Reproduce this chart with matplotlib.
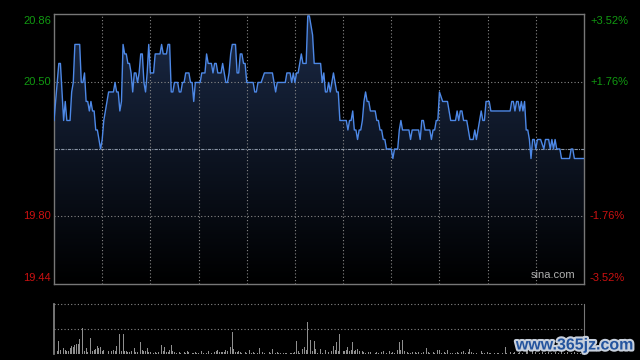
import matplotlib
matplotlib.use('Agg')
import matplotlib.pyplot as plt
import matplotlib.patheffects as pe
import matplotlib.transforms as mtrans
import numpy as np
from matplotlib.colors import LinearSegmentedColormap

# previous close and price axis range
prev_close = 20.15
y_low, y_high = 19.44, 20.86

# intraday price (minute index from open, price)
minutes = [0, 3, 4, 6, 7, 8, 10, 11, 12, 13, 16, 17, 18, 19, 20, 21, 22, 23, 24, 25,
           26, 27, 28, 29, 30, 31, 32, 33, 34, 37, 38, 39, 40, 41, 42, 43, 44, 45, 46, 47,
           48, 49, 50, 51, 52, 53, 54, 55, 56, 57, 58, 59, 60, 62, 63, 66, 67, 68, 70, 71,
           72, 73, 74, 75, 77, 78, 79, 80, 81, 82, 84, 85, 86, 87, 88, 91, 92, 94, 95, 96,
           98, 99, 100, 101, 102, 104, 105, 106, 107, 108, 109, 110, 111, 113, 114, 115, 116, 117, 118, 119,
           120, 124, 125, 126, 127, 129, 131, 136, 137, 138, 139, 144, 145, 147, 148, 149, 150, 151, 152, 153,
           154, 155, 157, 158, 159, 160, 161, 162, 166, 167, 168, 169, 170, 171, 172, 174, 176, 177, 178, 182,
           183, 184, 185, 186, 187, 188, 189, 190, 191, 192, 193, 194, 195, 196, 197, 200, 201, 202, 203, 204,
           205, 206, 207, 210, 211, 212, 214, 215, 216, 217, 221, 222, 223, 227, 228, 229, 230, 231, 234, 235,
           236, 237, 238, 239, 240, 242, 245, 246, 247, 250, 251, 252, 253, 254, 255, 257, 258, 259, 261, 262,
           263, 264, 265, 266, 267, 268, 269, 271, 272, 284, 285, 286, 287, 288, 289, 290, 291, 292, 293, 294,
           295, 296, 297, 298, 299, 300, 301, 303, 305, 306, 308, 309, 310, 311, 312, 313, 315, 316, 321, 322,
           323, 324, 330]
prices = [20.30, 20.60, 20.60, 20.30, 20.40, 20.30, 20.30, 20.45, 20.50, 20.70, 20.70, 20.50, 20.50, 20.55, 20.40, 20.40, 20.35, 20.40, 20.35, 20.35,
          20.25, 20.25, 20.20, 20.15, 20.20, 20.30, 20.35, 20.40, 20.45, 20.45, 20.50, 20.45, 20.45, 20.35, 20.40, 20.70, 20.65, 20.65, 20.60, 20.60,
          20.55, 20.45, 20.55, 20.55, 20.50, 20.55, 20.65, 20.65, 20.50, 20.45, 20.55, 20.70, 20.55, 20.55, 20.65, 20.65, 20.70, 20.65, 20.65, 20.70,
          20.70, 20.45, 20.45, 20.50, 20.50, 20.45, 20.45, 20.50, 20.50, 20.55, 20.55, 20.50, 20.50, 20.40, 20.50, 20.50, 20.55, 20.55, 20.65, 20.60,
          20.60, 20.55, 20.60, 20.60, 20.55, 20.55, 20.60, 20.55, 20.50, 20.50, 20.55, 20.65, 20.70, 20.70, 20.55, 20.55, 20.65, 20.65, 20.60, 20.60,
          20.50, 20.50, 20.45, 20.45, 20.50, 20.50, 20.55, 20.55, 20.50, 20.45, 20.50, 20.50, 20.55, 20.55, 20.50, 20.55, 20.50, 20.55, 20.55, 20.60,
          20.65, 20.60, 20.60, 20.85, 20.85, 20.80, 20.75, 20.60, 20.60, 20.50, 20.55, 20.45, 20.45, 20.50, 20.45, 20.55, 20.45, 20.45, 20.30, 20.30,
          20.25, 20.30, 20.30, 20.35, 20.25, 20.25, 20.20, 20.25, 20.25, 20.30, 20.40, 20.45, 20.40, 20.40, 20.35, 20.35, 20.30, 20.30, 20.25, 20.25,
          20.20, 20.20, 20.15, 20.15, 20.10, 20.15, 20.15, 20.25, 20.30, 20.25, 20.25, 20.20, 20.25, 20.25, 20.20, 20.30, 20.30, 20.25, 20.25, 20.20,
          20.25, 20.25, 20.30, 20.30, 20.45, 20.40, 20.40, 20.35, 20.30, 20.30, 20.35, 20.30, 20.35, 20.35, 20.30, 20.30, 20.25, 20.20, 20.20, 20.25,
          20.20, 20.25, 20.30, 20.35, 20.30, 20.30, 20.40, 20.40, 20.35, 20.35, 20.40, 20.40, 20.35, 20.40, 20.40, 20.35, 20.40, 20.35, 20.40, 20.25,
          20.25, 20.20, 20.10, 20.20, 20.20, 20.15, 20.20, 20.20, 20.15, 20.20, 20.20, 20.15, 20.20, 20.15, 20.20, 20.15, 20.15, 20.10, 20.10, 20.15,
          20.15, 20.10, 20.10]

# per-minute volume (arbitrary units, panel max = 50)
vol_minutes = [2, 3, 4, 6, 7, 8, 9, 10, 11, 12, 13, 14, 15, 16, 18, 19, 20, 21, 23, 24,
               25, 26, 27, 28, 29, 30, 31, 33, 34, 36, 37, 38, 39, 41, 42, 43, 44, 45, 46, 47,
               48, 50, 51, 52, 54, 55, 56, 57, 58, 59, 60, 62, 63, 64, 65, 67, 68, 69, 70, 71,
               72, 73, 74, 75, 76, 78, 79, 81, 82, 83, 84, 86, 87, 88, 89, 90, 92, 93, 95, 96,
               98, 99, 100, 101, 102, 103, 104, 105, 106, 107, 108, 110, 111, 112, 113, 114, 115, 116, 117, 119,
               120, 122, 123, 124, 125, 127, 128, 130, 131, 132, 134, 135, 136, 138, 139, 140, 141, 143, 144, 145,
               147, 148, 149, 150, 151, 152, 153, 155, 156, 157, 158, 160, 161, 162, 163, 164, 165, 166, 167, 169,
               171, 173, 174, 175, 176, 177, 178, 180, 181, 182, 183, 184, 185, 186, 187, 188, 189, 190, 192, 193,
               194, 196, 197, 198, 200, 201, 202, 204, 205, 207, 209, 210, 211, 212, 214, 215, 216, 217, 218, 220,
               221, 222, 223, 225, 226, 227, 229, 230, 232, 233, 234, 236, 237, 239, 240, 241, 243, 244, 245, 247,
               248, 250, 251, 252, 254, 255, 256, 258, 259, 260, 261, 263, 264, 266, 267, 268, 270, 271, 272, 274,
               276, 277, 279, 281, 282, 284, 286, 287, 289, 290, 292, 294, 295, 297, 298, 300, 302, 304, 306, 308,
               310, 312, 314, 316, 318, 320, 322, 324, 326, 328, 330]
volumes = [3.3, 13.3, 4.3, 6, 4.3, 3.3, 2.7, 6, 7.7, 7, 9.3, 10.3, 10.3, 15, 26, 2.7, 6, 1.7, 16, 2.7,
           4.3, 5, 8.3, 6, 7, 3.3, 4.3, 7, 3.3, 3.3, 4.3, 3.3, 8.3, 20.3, 2.7, 20.3, 3.3, 3.3, 1.7, 1.7,
           3.3, 6, 1.7, 1.7, 11.7, 4.3, 2.7, 3.3, 6, 1.7, 1.7, 1, 1.7, 1, 1.7, 9.3, 2.7, 7, 1.7, 1.7,
           4.3, 9.3, 3.3, 1.7, 1, 1.7, 1, 1.7, 1, 2.7, 1.7, 1, 1, 1.7, 1, 1, 3.3, 1, 1, 3.3,
           1, 1, 1.7, 2.7, 3.7, 1.7, 1.7, 1.7, 1.7, 3.7, 2.7, 7, 21.7, 5, 1.7, 1.7, 3.3, 1.7, 1, 1.7,
           1, 4.3, 1, 1.7, 1, 1, 6, 1.7, 1, 1, 1.7, 1, 5, 1, 1.7, 1, 1, 1, 1, 1,
           1, 1, 1, 1.7, 12.7, 3.3, 1, 5, 7, 3.7, 31.7, 13.7, 2.7, 12.7, 5, 1, 1, 5, 1, 4.3,
           1.7, 2.7, 8.3, 4.3, 11.7, 2.7, 20.3, 2.7, 3.3, 4.3, 7, 2.7, 4.3, 11.7, 2.7, 4.3, 5, 2.7, 2.7, 1.7,
           1, 1.7, 1.7, 3.3, 1, 1.7, 1, 1.7, 3.3, 1, 2.7, 1, 1.7, 1, 4.3, 11.7, 4.3, 14.3, 3.3, 1.7,
           1, 1, 1.7, 1.7, 1, 1.7, 1, 1.7, 6, 1.7, 1, 1.7, 1, 4.3, 3.7, 1, 1.7, 1, 3.7, 1,
           1, 1, 1.7, 1, 1.7, 3.3, 1, 1.7, 5, 1.7, 1, 1, 1.7, 3.3, 1, 1, 1.7, 1, 1, 1,
           1, 1, 1, 7, 1, 1.7, 1, 1.7, 1, 1.7, 1, 3.3, 5, 8, 2.7, 1.7, 1, 1.7, 1, 1.7,
           1, 1.7, 1, 2.7, 1, 1.7, 1, 1.7, 1, 1, 1.7]

left_ticks = [20.86, 20.50, 19.80, 19.44]
left_labels = ['20.86', '20.50', '19.80', '19.44']
right_labels = ['+3.52%', '+1.76%', '-1.76%', '-3.52%']
label_colors = ['#119911', '#119911', '#cc1111', '#cc1111']
label_shift = [-6.7, 0, 0, 6.3]  # px, keeps edge labels inside the box

plt.rcParams['font.family'] = ['Liberation Sans', 'DejaVu Sans']

fig = plt.figure(figsize=(6.4, 3.6), dpi=100, facecolor='black')
ax = fig.add_axes([54 / 640, 1 - 284 / 360, 530 / 640, 270 / 360])
axv = fig.add_axes([54 / 640, 1 - 354 / 360, 530 / 640, 50 / 360])

# --- price panel ---
ax.set_facecolor('black')
fill = ax.fill_between(minutes, prices, y_low, color='none', linewidth=0)
cmap = LinearSegmentedColormap.from_list('fade', ['#000000', '#1b2a47'])
grad = np.linspace(1, 0, 256).reshape(-1, 1)
img = ax.imshow(grad, cmap=cmap, aspect='auto', origin='upper',
                extent=[0, 330, y_low, y_high], zorder=0.2)
img.set_clip_path(fill.get_paths()[0], transform=ax.transData)

ax.plot(minutes, prices, color='#4d88e6', linewidth=1.0, zorder=3)

ax.set_xlim(0, 330)
ax.set_ylim(y_low, y_high)
ax.set_xticks(range(30, 330, 30))
ax.set_xticklabels([])
ax.set_yticks([])
ax.tick_params(length=0)
ax.grid(axis='x', color='#888888', linestyle=(0, (1, 2)), linewidth=0.8)
for v in [20.50, 19.80]:
    ax.axhline(v, color='#888888', linestyle=(0, (1, 2)), linewidth=0.8, zorder=1.5)
ax.axhline(prev_close, color='#8a95a5', linestyle=(0, (3, 1, 1, 1)), linewidth=0.8, zorder=1.5)

ytrans = ax.get_yaxis_transform()
for v, lt, rt, c, dy in zip(left_ticks, left_labels, right_labels, label_colors, label_shift):
    off_l = mtrans.ScaledTranslation(-3 / 100, dy / 100, fig.dpi_scale_trans)
    off_r = mtrans.ScaledTranslation(6 / 100, dy / 100, fig.dpi_scale_trans)
    ax.text(0, v, lt, transform=ytrans + off_l, ha='right', va='center',
            color=c, fontsize=8, clip_on=False)
    ax.text(1, v, rt, transform=ytrans + off_r, ha='left', va='center',
            color=c, fontsize=8, clip_on=False)

for s in ax.spines.values():
    s.set_color('#777777')
    s.set_linewidth(1)

ax.text(0.984, 0.015, 'sina.com', transform=ax.transAxes, ha='right', va='bottom',
        color='#b0b0b0', fontsize=8, zorder=4)

# --- volume panel ---
axv.set_facecolor('black')
axv.bar(vol_minutes, volumes, width=0.6, color='#8f8f8f', linewidth=0)
axv.set_xlim(0, 330)
axv.set_ylim(0, 50)
for v in [25, 50]:
    axv.axhline(v, color='#888888', linestyle=(0, (1, 2)), linewidth=0.8, clip_on=False)
axv.set_xticks([])
axv.set_yticks([])
for side in ['top', 'bottom']:
    axv.spines[side].set_visible(False)
axv.spines['left'].set_color('#8a8a8a')
axv.spines['left'].set_linewidth(1.2)
axv.spines['right'].set_color('#777777')

fig.text(575 / 640, 1 - 345 / 360, 'www.365jz.com', ha='center', va='center',
         color='#24549e', fontsize=11.5, fontweight='bold',
         path_effects=[pe.withStroke(linewidth=3, foreground='#c8d0dc')])

fig.savefig('out.png', dpi=100, facecolor='black')
